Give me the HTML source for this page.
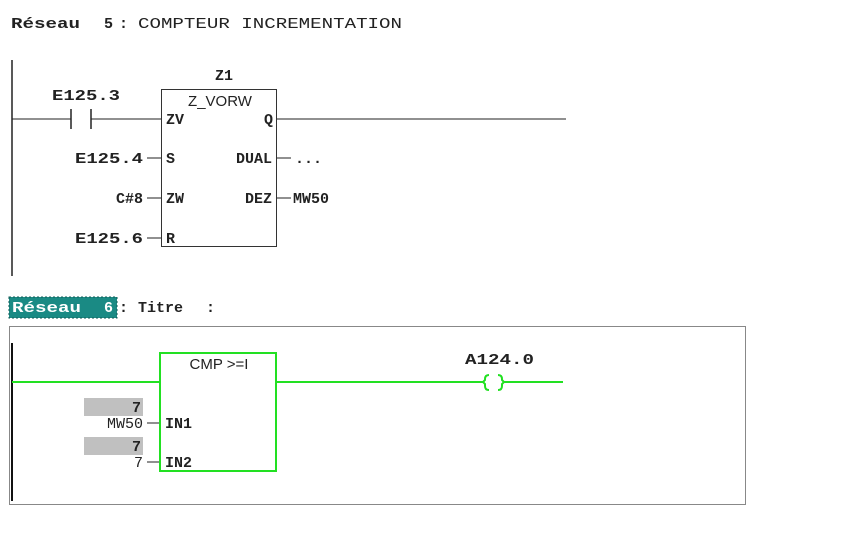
<!DOCTYPE html>
<html><head><meta charset="utf-8"><style>
html,body{margin:0;padding:0;background:#fff;width:855px;height:549px;overflow:hidden}
svg text{font-family:"Liberation Mono",monospace;font-weight:bold;font-size:15px;fill:#222}
.s{font-family:"Liberation Sans",sans-serif;font-weight:normal}
.n{font-weight:normal}
</style></head><body>
<svg width="855" height="549" viewBox="0 0 855 549" xmlns="http://www.w3.org/2000/svg">
<!-- Network 5 -->
<text x="11" y="28" font-size="14" textLength="69" lengthAdjust="spacingAndGlyphs">Réseau</text>
<text x="104" y="28">5</text>
<text x="119" y="28">:</text>
<text x="138" y="28" class="n" textLength="264" lengthAdjust="spacingAndGlyphs">COMPTEUR INCREMENTATION</text>
<line x1="12" y1="60" x2="12" y2="276" stroke="#222" stroke-width="1.5"/>
<line x1="12" y1="119" x2="71" y2="119" stroke="#222"/>
<line x1="71" y1="109" x2="71" y2="129" stroke="#222" stroke-width="1.5"/>
<line x1="91" y1="109" x2="91" y2="129" stroke="#222" stroke-width="1.5"/>
<line x1="91" y1="119" x2="161" y2="119" stroke="#222"/>
<text x="52" y="100" textLength="68" lengthAdjust="spacingAndGlyphs">E125.3</text>
<text x="224" y="80" text-anchor="middle">Z1</text>
<rect x="161.5" y="89.5" width="115" height="157" fill="none" stroke="#333"/>
<text x="220" y="106" class="s" text-anchor="middle" font-size="15">Z_VORW</text>
<text x="166" y="124">ZV</text>
<text x="273" y="124" text-anchor="end">Q</text>
<line x1="277" y1="119" x2="566" y2="119" stroke="#222"/>
<text x="166" y="163">S</text><text x="166" y="203">ZW</text><text x="166" y="243">R</text>
<text x="143" y="163" text-anchor="end" textLength="68" lengthAdjust="spacingAndGlyphs">E125.4</text>
<text x="143" y="203" text-anchor="end">C#8</text>
<text x="143" y="243" text-anchor="end" textLength="68" lengthAdjust="spacingAndGlyphs">E125.6</text>
<line x1="147" y1="158" x2="161" y2="158" stroke="#222"/>
<line x1="147" y1="198" x2="161" y2="198" stroke="#222"/>
<line x1="147" y1="238" x2="161" y2="238" stroke="#222"/>
<text x="272" y="163" text-anchor="end">DUAL</text>
<text x="272" y="203" text-anchor="end">DEZ</text>
<line x1="277" y1="158" x2="291" y2="158" stroke="#222"/>
<line x1="277" y1="198" x2="291" y2="198" stroke="#222"/>
<text x="295" y="163">...</text>
<text x="293" y="203">MW50</text>
<!-- Network 6 -->
<rect x="9" y="297" width="108" height="21" fill="#1a8a84" stroke="#0d5a55" stroke-dasharray="2,2"/>
<text x="12" y="312" style="fill:#fff" font-size="14" textLength="69" lengthAdjust="spacingAndGlyphs">Réseau</text>
<text x="104" y="312" style="fill:#fff">6</text>
<text x="119" y="312">:</text>
<text x="138" y="312">Titre</text>
<text x="206" y="312">:</text>
<rect x="9.5" y="326.5" width="736" height="178" fill="none" stroke="#888"/>
<line x1="12" y1="343" x2="12" y2="501" stroke="#111" stroke-width="2"/>
<line x1="12" y1="382" x2="160" y2="382" stroke="#22e022" stroke-width="2"/>
<rect x="160" y="353" width="116" height="118" fill="none" stroke="#22e022" stroke-width="2"/>
<text x="219" y="369" class="s" text-anchor="middle" font-size="14">CMP &gt;=I</text>
<line x1="276" y1="382" x2="483" y2="382" stroke="#22e022" stroke-width="2"/>
<text x="465" y="364" textLength="69" lengthAdjust="spacingAndGlyphs">A124.0</text>
<path d="M489 375 Q485 375 485 379 L485 380 L483 382 L485 384 L485 386 Q485 390 489 390" fill="none" stroke="#22e022" stroke-width="2"/>
<path d="M498 375 Q502 375 502 379 L502 380 L504 382 L502 384 L502 386 Q502 390 498 390" fill="none" stroke="#22e022" stroke-width="2"/>
<line x1="504" y1="382" x2="563" y2="382" stroke="#22e022" stroke-width="2"/>
<rect x="84" y="398" width="59" height="18" fill="#c0c0c0"/>
<rect x="84" y="437" width="59" height="18" fill="#c0c0c0"/>
<text x="141" y="412" text-anchor="end">7</text>
<text x="141" y="451" text-anchor="end">7</text>
<text x="143" y="428" class="n" text-anchor="end">MW50</text>
<text x="143" y="467" class="n" text-anchor="end">7</text>
<line x1="147" y1="423" x2="159" y2="423" stroke="#222"/>
<line x1="147" y1="462" x2="159" y2="462" stroke="#222"/>
<text x="165" y="428">IN1</text>
<text x="165" y="467">IN2</text>
</svg>
</body></html>
